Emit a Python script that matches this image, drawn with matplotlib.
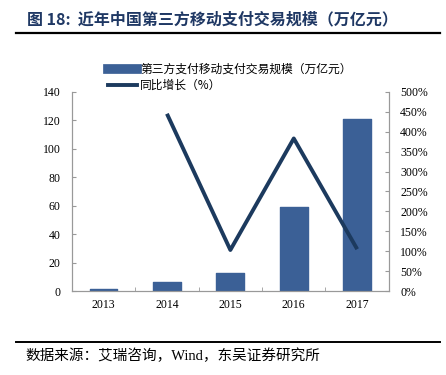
import matplotlib.pyplot as plt
from matplotlib.lines import Line2D

plt.rcParams['font.family'] = ['Liberation Serif', 'Noto Sans CJK SC']

# data
years = ['2013', '2014', '2015', '2016', '2017']
volume = [1.3, 6.0, 13.0, 59.0, 121.0]          # 万亿元
growth = [None, 445, 103, 383, 105]              # %

bar_color = '#3b6096'
line_color = '#1c3a5e'
axis_color = '#999999'

fig = plt.figure(figsize=(4.46, 3.75), dpi=100)
ax = fig.add_axes([0.161, 0.224, 0.711, 0.531])
ax2 = ax.twinx()

x = list(range(len(years)))
ax.bar(x, volume, width=0.44, color=bar_color, edgecolor=bar_color,
       linewidth=1, joinstyle='round', zorder=2)

gx = [i for i, g in zip(x, growth) if g is not None]
gy = [g for g in growth if g is not None]
ax2.plot(gx, gy, color=line_color, linewidth=2.8, solid_capstyle='butt', zorder=3)

ax.set_xlim(-0.5, 4.5)
ax.set_ylim(0, 140)
ax.set_yticks(range(0, 141, 20))
ax2.set_ylim(0, 500)
ax2.set_yticks(range(0, 501, 50))
ax2.set_yticklabels([f'{v}%' for v in range(0, 501, 50)])

ax.set_xticks(x)
ax.set_xticklabels(years)
ax.set_xticks([i + 0.5 for i in x[:-1]], minor=True)

for a in (ax, ax2):
    a.spines['top'].set_visible(False)
    for s in ('left', 'right', 'bottom'):
        a.spines[s].set_color(axis_color)
        a.spines[s].set_linewidth(0.8)
    a.tick_params(axis='y', direction='in', length=3, color=axis_color,
                  labelsize=8.5, pad=8)
ax.tick_params(axis='x', which='major', length=0, labelsize=8.5, pad=6)
ax.tick_params(axis='x', which='minor', direction='in', length=3, color=axis_color)
ax2.set_zorder(ax.get_zorder() + 1)
ax2.patch.set_visible(False)

# legend
handles = [Line2D([0], [0], color=bar_color, linewidth=7),
           Line2D([0], [0], color=line_color, linewidth=2.8)]
labels = ['第三方支付移动支付交易规模（万亿元）', '同比增长（%）']
fig.legend(handles, labels, loc='upper left', bbox_to_anchor=(0.218, 0.86),
           frameon=False, handlelength=2.5, handletextpad=0.25,
           labelspacing=0.25, prop={'family': ['Noto Sans CJK SC'], 'size': 8.5})

# title and footer
fig.text(0.06, 0.947, '图 18:  近年中国第三方移动支付交易规模（万亿元）',
         fontsize=11.5, fontweight='bold', color='#1f3864', va='center',
         family=['Noto Sans CJK SC'])
fig.add_artist(Line2D([0.036, 0.987], [0.912, 0.912], color='black', linewidth=1.6))
fig.add_artist(Line2D([0.036, 0.987], [0.088, 0.088], color='black', linewidth=1.4))
fig.text(0.056, 0.052, '数据来源：艾瑞咨询，Wind，东吴证券研究所',
         fontsize=10.5, color='black', va='center')

fig.savefig('out.png', dpi=100)
